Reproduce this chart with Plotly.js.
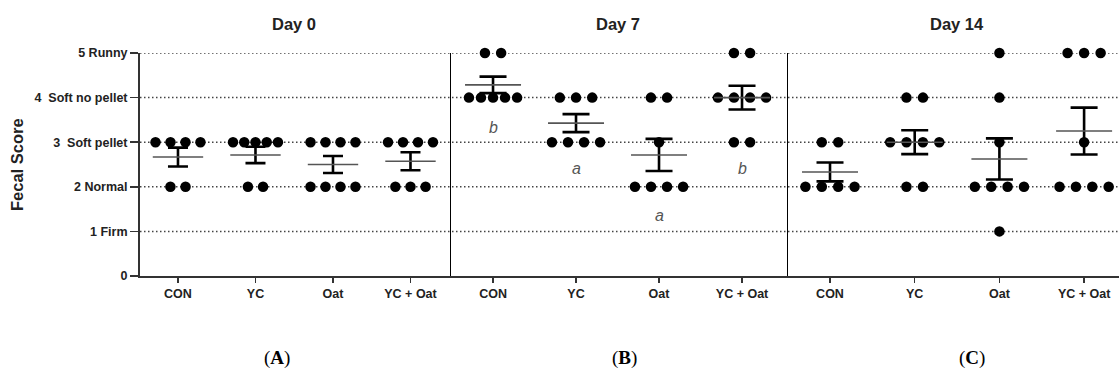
<!DOCTYPE html>
<html>
<head>
<meta charset="utf-8">
<script src="https://cdn.plot.ly/plotly-3.0.1.min.js"></script>
<style>html,body{margin:0;padding:0;background:#fff;}#chart{width:1119px;height:376px;}</style>
</head>
<body>
<div id="chart"></div>
<script>
// ---- Data (individual fecal scores) ----
const groups = ["CON", "YC", "Oat", "YC + Oat"];
const dayTitles = ["Day 0", "Day 7", "Day 14"];
const panelLabels = ["A", "B", "C"];
const yTickValues = [0, 1, 2, 3, 4, 5];
const yTickLabels = ["0", "1 Firm", "2 Normal", "3  Soft pellet", "4  Soft no pellet", "5 Runny"];

const day0Scores = [
  [3, 3, 3, 3, 2, 2],
  [3, 3, 3, 3, 3, 2, 2],
  [3, 3, 3, 3, 2, 2, 2, 2],
  [3, 3, 3, 3, 2, 2, 2]
];
const day7Scores = [
  [5, 5, 4, 4, 4, 4, 4],
  [4, 4, 4, 3, 3, 3, 3],
  [4, 4, 3, 2, 2, 2, 2],
  [5, 5, 4, 4, 4, 4, 3, 3]
];
const day14Scores = [
  [3, 3, 2, 2, 2, 2],
  [4, 4, 3, 3, 3, 3, 2, 2],
  [5, 4, 3, 2, 2, 2, 2, 1],
  [5, 5, 5, 3, 2, 2, 2, 2]
];
const day7Letters = ["b", "a", "a", "b"];

const allDays = [day0Scores, day7Scores, day14Scores];

// ---- helpers ----
function mean(a) { return a.reduce((s, v) => s + v, 0) / a.length; }
function sem(a) {
  const m = mean(a);
  const v = a.reduce((s, x) => s + (x - m) * (x - m), 0) / (a.length - 1);
  return Math.sqrt(v) / Math.sqrt(a.length);
}
// beeswarm-like horizontal spread of identical scores
function swarm(scores, center) {
  const xs = [], ys = [];
  const counts = {};
  scores.forEach(v => counts[v] = (counts[v] || 0) + 1);
  Object.keys(counts).forEach(k => {
    const n = counts[k];
    const step = n > 1 ? Math.min(0.195, 0.58 / (n - 1)) : 0;
    for (let j = 0; j < n; j++) {
      xs.push(center + (j - (n - 1) / 2) * step);
      ys.push(Number(k));
    }
  });
  return { xs, ys };
}

const axisSuffix = ["", "2", "3"];
const meanWidth = [36, 40, 40];
const capHalf = [10, 13.5, 13.5];
const traces = [];

allDays.forEach((day, p) => {
  const xs = [], ys = [];
  day.forEach((scores, g) => {
    const s = swarm(scores, g);
    xs.push(...s.xs); ys.push(...s.ys);
  });
  traces.push({
    type: "scatter", mode: "markers", x: xs, y: ys,
    xaxis: "x" + axisSuffix[p], yaxis: "y" + axisSuffix[p],
    marker: { color: "#000", size: 10.5 },
    cliponaxis: false, hoverinfo: "skip", showlegend: false
  });
  traces.push({
    type: "scatter", mode: "markers",
    x: groups.map((_, i) => i),
    y: day.map(mean),
    xaxis: "x" + axisSuffix[p], yaxis: "y" + axisSuffix[p],
    marker: { symbol: "line-ew", size: meanWidth[p], color: "#555", line: { color: "#555", width: 1.6 } },
    error_y: { type: "data", array: day.map(sem), visible: true, color: "#000", thickness: 2.6, width: capHalf[p] },
    cliponaxis: false, hoverinfo: "skip", showlegend: false
  });
});

const tickFont = { family: "Liberation Sans, Arial, sans-serif", size: 12.5, color: "#222", weight: "bold" };
const xRanges = [[-0.49, 3.523], [-0.506, 3.554], [-0.496, 3.412]];
const xDomains = [[0, 0.3177], [0.3177, 0.6619], [0.6619, 1]];

const layout = {
  width: 1119, height: 376,
  margin: { l: 140, r: 0, t: 53, b: 100 },
  paper_bgcolor: "#fff", plot_bgcolor: "rgba(0,0,0,0)",
  showlegend: false,
  annotations: [],
  shapes: []
};

[0, 1, 2].forEach(p => {
  const s = axisSuffix[p];
  layout["xaxis" + s] = {
    domain: xDomains[p], range: xRanges[p], anchor: "y" + s,
    tickmode: "array", tickvals: groups.map((_, i) => i), ticktext: groups,
    ticks: "outside", ticklen: 5, tickwidth: 1.5, tickcolor: "#333",
    showline: true, linecolor: "#333", linewidth: 1.5,
    showgrid: false, zeroline: false, tickfont: tickFont, fixedrange: true
  };
  layout["yaxis" + s] = {
    range: [0, 5], anchor: "x" + s,
    showline: true, linecolor: p === 0 ? "#333" : "#000", linewidth: p === 0 ? 2 : 1.5,
    showgrid: false, zeroline: false, fixedrange: true,
    tickmode: "array", tickvals: yTickValues,
    ticktext: p === 0 ? yTickLabels : yTickValues.map(() => ""),
    ticks: p === 0 ? "outside" : "", ticklen: 8, tickwidth: 1.5, tickcolor: "#333",
    showticklabels: p === 0, tickfont: tickFont
  };
  layout.annotations.push({
    text: dayTitles[p], xref: "x" + s, yref: "paper", x: 1.5, y: 1.13,
    xanchor: "center", yanchor: "middle", showarrow: false,
    font: { family: "Liberation Sans, Arial, sans-serif", size: 16.5, color: "#222", weight: "bold" }
  });
});

// dotted reference lines at each score level
yTickValues.filter(v => v > 0).forEach(v => {
  layout.shapes.push({
    type: "line", xref: "paper", yref: "y", x0: 0, x1: 1, y0: v, y1: v,
    line: { color: "#444", width: 1.5, dash: "1.5px,2.5px" }, layer: "below"
  });
});

// letters of significance for day 7
const letterY = [3.32, 2.42, 1.35, 2.42];
day7Letters.forEach((t, i) => {
  layout.annotations.push({
    text: "<i>" + t + "</i>", xref: "x2", yref: "y2", x: i, y: letterY[i],
    showarrow: false, xanchor: "center", yanchor: "middle",
    font: { family: "Liberation Sans, Arial, sans-serif", size: 16, color: "#555" }
  });
});

// y axis title
layout.annotations.push({
  text: "Fecal Score", xref: "paper", yref: "paper", x: -0.1256, y: 0.498,
  textangle: -90, showarrow: false, xanchor: "center", yanchor: "middle",
  font: { family: "Liberation Sans, Arial, sans-serif", size: 16.5, color: "#222", weight: "bold" }
});

// panel labels
const panelX = [0.1399, 0.4944, 0.8498];
panelLabels.forEach((t, i) => {
  layout.annotations.push({
    text: "(<b>" + t + "</b>)", xref: "paper", yref: "paper", x: panelX[i], y: -0.368,
    showarrow: false, xanchor: "center", yanchor: "middle",
    font: { family: "Liberation Serif, DejaVu Serif, serif", size: 19, color: "#000" }
  });
});

Plotly.newPlot("chart", traces, layout, { displayModeBar: false, staticPlot: true });
</script>
</body>
</html>
